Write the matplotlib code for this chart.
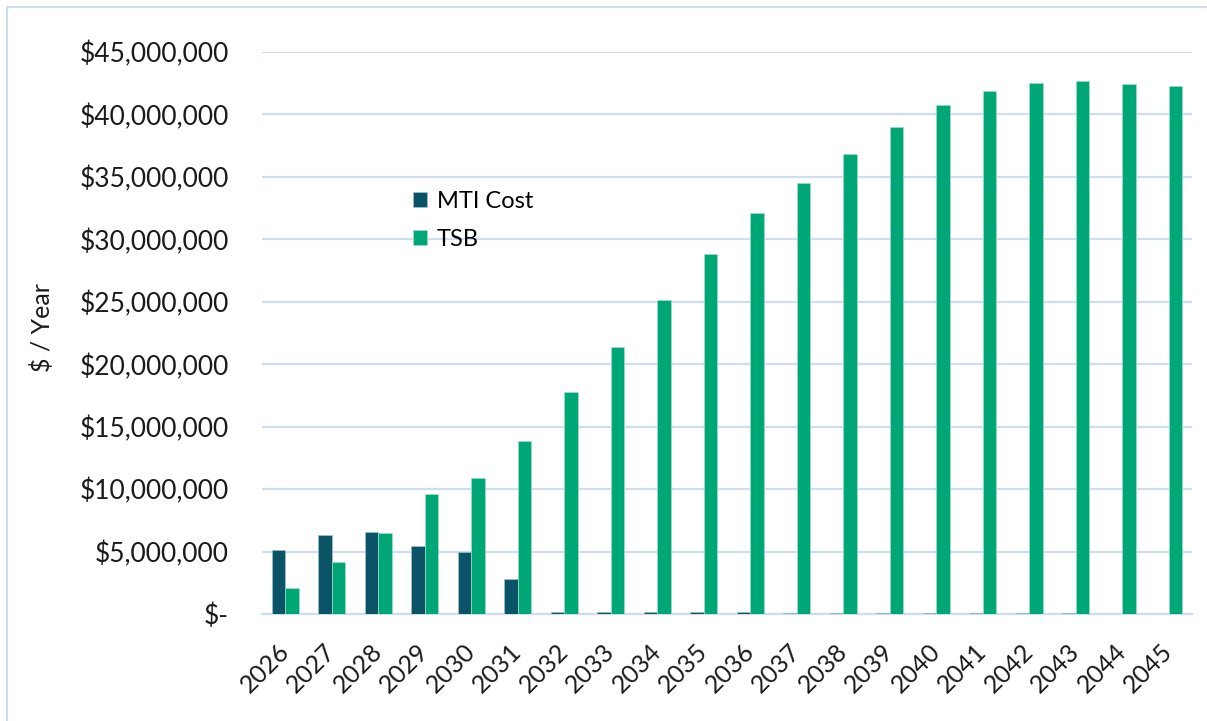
import matplotlib
matplotlib.use("Agg")
import matplotlib.pyplot as plt
import numpy as np
from matplotlib.ticker import FuncFormatter
from matplotlib.patches import Rectangle

years = [str(y) for y in range(2026, 2046)]
mti_cost = [5.12e6, 6.35e6, 6.59e6, 5.45e6, 4.99e6, 2.77e6,
            0.16e6, 0.16e6, 0.16e6, 0.16e6, 0.16e6,
            0.12e6, 0.12e6, 0.12e6, 0.12e6, 0.12e6, 0.12e6, 0.12e6,
            0.0, 0.0]
tsb = [2.08e6, 4.16e6, 6.49e6, 9.57e6, 10.85e6, 13.89e6, 17.76e6,
       21.36e6, 25.16e6, 28.84e6, 32.13e6, 34.53e6, 36.80e6, 38.96e6,
       40.78e6, 41.90e6, 42.50e6, 42.70e6, 42.46e6, 42.24e6]
y_ticks = list(range(0, 45000001, 5000000))

plt.rcParams['font.family'] = ['Lato', 'DejaVu Sans']

W, H = 1207, 721
fig = plt.figure(figsize=(W / 100, H / 100), dpi=100)
ax = fig.add_axes([262 / W, 1 - 614 / H, (1192 - 262) / W, (614 - 52) / H])

grid_c = '#D0DCF0'
dark = '#0B5468'
green = '#00A776'

x = np.arange(len(years))
bw = 0.286
ax.bar(x - bw / 2, mti_cost, bw, color=dark, edgecolor='#9FC3CC', linewidth=0.5,
       label='MTI Cost', zorder=3)
ax.bar(x + bw / 2, tsb, bw, color=green, edgecolor='#9FE0C8', linewidth=0.5,
       label='TSB', zorder=3)

ax.set_xlim(-0.5, len(years) - 0.5)
ax.set_ylim(0, 45000000)
ax.set_yticks(y_ticks)
ax.yaxis.set_major_formatter(FuncFormatter(
    lambda v, p: '$-' if v == 0 else '${:,.0f}'.format(v)))
ax.set_xticks(x)
ax.set_xticklabels(years, rotation=45, ha='right', va='center',
                   rotation_mode='anchor', fontsize=18)
ax.tick_params(axis='y', length=0, pad=24, labelsize=19, colors='#1a1a1a')
ax.tick_params(axis='x', length=0, pad=24, colors='#1a1a1a')

ax.grid(axis='y', color=grid_c, linewidth=1.6, zorder=0)
for s in ['top', 'right', 'left']:
    ax.spines[s].set_visible(False)
ax.spines['bottom'].set_color(grid_c)
ax.spines['bottom'].set_linewidth(1.6)

ax.set_ylabel('$ / Year', fontsize=18, color='#1a1a1a')
ax.yaxis.set_label_coords(-208 / 930, 0.51)

leg = fig.legend(loc='upper left', bbox_to_anchor=(392 / W, 1 - 170 / H),
                 frameon=False, fontsize=17, handlelength=0.6, handleheight=0.6,
                 handletextpad=0.4, labelspacing=0.7)

fig.patches.append(Rectangle((7 / W, -0.01), 1.02, 1 - 7 / H + 0.01,
                             transform=fig.transFigure, fill=False,
                             edgecolor=grid_c, linewidth=1.5))

fig.savefig('out.png', dpi=100)
